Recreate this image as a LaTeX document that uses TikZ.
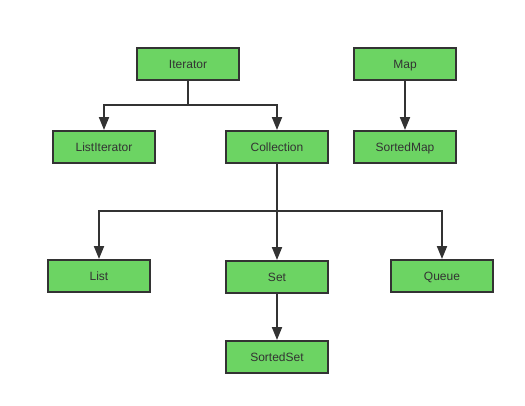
\documentclass[tikz,border=0pt]{standalone}
\usepackage{fontspec}
\setmainfont{Liberation Sans}
\usetikzlibrary{arrows.meta}
\definecolor{boxfill}{HTML}{6CD463}
\definecolor{ink}{HTML}{333333}
\begin{document}
\begin{tikzpicture}[x=1pt,y=-1pt,
  cls/.style={draw=ink,line width=2pt,fill=boxfill,minimum width=102pt,minimum height=32pt,inner sep=0pt,text height=8.6pt,text depth=0pt,font=\fontsize{12pt}{14pt}\selectfont,text=ink},
  conn/.style={draw=ink,line width=2pt,-{Triangle[length=13pt,width=10pt]}}]
\useasboundingbox (0,0) rectangle (525,405);
\node[cls] (it) at (188,64) {Iterator};
\node[cls] (li) at (104,147) {ListIterator};
\node[cls] (co) at (277,147) {Collection};
\node[cls] (map) at (405,64) {Map};
\node[cls] (sm) at (405,147) {SortedMap};
\node[cls] (list) at (99,276) {List};
\node[cls] (set) at (277,277) {Set};
\node[cls] (q) at (442,276) {Queue};
\node[cls] (ss) at (277,357) {SortedSet};
\coordinate (j1) at (188,105);
\coordinate (j2) at (277,211);
\draw[conn] (it.south) -- (j1) -| (li.north);
\draw[conn] (j1) -| (co.north);
\draw[conn] (map) -- (sm);
\draw[conn] (co.south) -- (j2) -| (list.north);
\draw[conn] (j2) -- (set.north);
\draw[conn] (j2) -| (q.north);
\draw[conn] (set) -- (ss);
\end{tikzpicture}
\end{document}
